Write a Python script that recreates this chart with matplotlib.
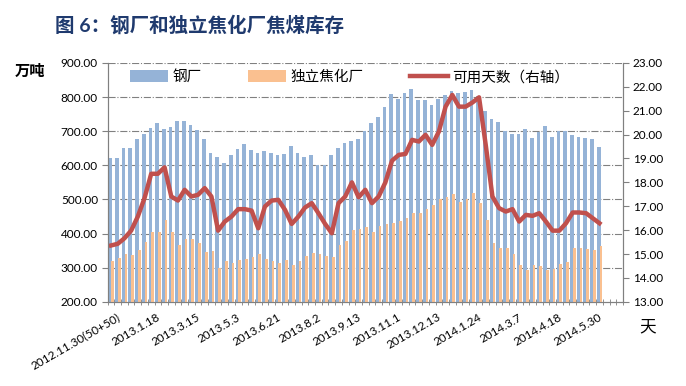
import matplotlib
matplotlib.use("Agg")
import matplotlib.pyplot as plt
import numpy as np

plt.rcParams['font.family'] = ['Lato', 'Noto Sans CJK SC', 'DejaVu Sans']

# 钢厂焦煤库存（万吨）
steel = [622, 622, 651, 651, 678, 693, 710, 723, 707, 713, 731, 729, 719, 704, 676,
         637, 625, 607, 629, 648, 661, 645, 637, 641, 637, 629, 632, 656, 637, 625,
         629, 600, 600, 629, 651, 664, 671, 676, 702, 723, 742, 772, 808, 795, 811,
         824, 791, 791, 778, 793, 805, 818, 813, 815, 821, 803, 759, 736, 727, 700,
         693, 693, 705, 681, 697, 715, 684, 700, 700, 688, 684, 681, 678, 654]

# 独立焦化厂焦煤库存（万吨）
coking = [321, 329, 339, 336, 353, 375, 404, 406, 441, 404, 368, 383, 385, 371, 345,
          348, 300, 321, 314, 324, 327, 332, 339, 327, 321, 314, 324, 309, 319, 334,
          343, 339, 334, 332, 368, 378, 410, 414, 420, 406, 422, 427, 431, 436, 446,
          461, 459, 472, 484, 500, 508, 515, 493, 500, 519, 490, 439, 373, 358, 358,
          339, 309, 293, 307, 304, 293, 297, 312, 316, 358, 358, 355, 351, 363]

# 可用天数（右轴）
days = [15.36, 15.43, 15.66, 15.98, 16.57, 17.34, 18.36, 18.36, 18.63, 17.41, 17.24, 17.69, 17.41, 17.48, 17.76,
        17.41, 15.98, 16.36, 16.57, 16.88, 16.88, 16.82, 16.08, 16.99, 17.24, 17.27, 16.85, 16.26, 16.57, 16.95,
        17.13, 16.71, 16.26, 15.87, 17.13, 17.41, 18.00, 17.38, 17.69, 17.13, 17.41, 18.00, 18.91, 19.15, 19.19,
        19.78, 19.71, 19.99, 19.57, 20.13, 21.17, 21.66, 21.17, 21.17, 21.34, 21.56, 19.57, 17.41, 16.92, 16.78,
        16.88, 16.36, 16.64, 16.60, 16.71, 16.36, 15.98, 15.98, 16.29, 16.74, 16.74, 16.71, 16.50, 16.29]

date_labels = ["2012.11.30(50+50)", "2013.1.18", "2013.3.15", "2013.5.3", "2013.6.21",
               "2013.8.2", "2013.9.13", "2013.11.1", "2013.12.13", "2014.1.24",
               "2014.3.7", "2014.4.18", "2014.5.30"]
label_step = 6
n_slots = 77

BLUE = "#95B3D7"
ORANGE = "#FAC090"
RED = "#C0504D"
GRID = "#808080"


def main():
    fig = plt.figure(figsize=(6.86, 3.86), dpi=100)
    ax = fig.add_axes([0.157, 0.218, 0.751, 0.619])
    ax2 = ax.twinx()

    x = np.arange(len(steel))
    b1 = ax.bar(x - 0.12, steel, width=0.55, color=BLUE, zorder=2, label="钢厂")
    b2 = ax.bar(x + 0.22, coking, width=0.4, color=ORANGE, zorder=3, label="独立焦化厂")
    l1, = ax2.plot(x, days, color=RED, lw=3.2, solid_joinstyle="round", label="可用天数（右轴）")

    ax.set_xlim(-0.5, n_slots - 0.5)
    ax.set_ylim(200, 900)
    ax.set_yticks(np.arange(200, 901, 100))
    ax.set_yticklabels([f"{v:.2f}" for v in range(200, 901, 100)], fontsize=8.5)
    ax2.set_ylim(13, 23)
    ax2.set_yticks(np.arange(13, 24, 1))
    ax2.set_yticklabels([f"{v:.2f}" for v in range(13, 24)], fontsize=8.5)

    for y in range(300, 901, 100):
        ax.axhline(y, color=GRID, lw=0.8, ls="-.", zorder=1)

    ax.set_xticks(np.arange(0, len(date_labels) * label_step, label_step) + 0.8)
    ax.set_xticklabels(date_labels, rotation=30, ha="right", rotation_mode="anchor", fontsize=8.5)
    ax.set_xticks(np.arange(-0.5, n_slots, 1), minor=True)
    ax.tick_params(axis="x", which="major", length=0, pad=7)
    ax.tick_params(axis="x", which="minor", length=4, direction="inout", color=GRID)
    ax.tick_params(axis="y", length=4, color=GRID, pad=3)
    ax2.tick_params(axis="y", length=4, color=GRID, pad=3)

    for a in (ax, ax2):
        a.spines["top"].set_visible(False)
        for s in ("left", "right", "bottom"):
            a.spines[s].set_color(GRID)

    ax.set_zorder(ax2.get_zorder() - 1)
    ax.patch.set_visible(False)

    ax2.legend([b1, b2, l1], ["钢厂", "独立焦化厂", "可用天数（右轴）"], ncol=3, frameon=False,
               loc="upper center", bbox_to_anchor=(0.47, 1.025), fontsize=10.5,
               handlelength=2.6, handleheight=0.9, columnspacing=3.2, handletextpad=0.3)

    fig.text(0.08, 0.935, "图 6：钢厂和独立焦化厂焦煤库存", fontsize=14, fontweight="bold",
             color="#1F3A6E", ha="left", va="center")
    fig.text(0.022, 0.815, "万吨", fontsize=11, fontweight="bold", ha="left", va="center")
    fig.text(0.932, 0.155, "天", fontsize=12, ha="left", va="center")

    fig.savefig("out.png", dpi=100)


if __name__ == "__main__":
    main()
